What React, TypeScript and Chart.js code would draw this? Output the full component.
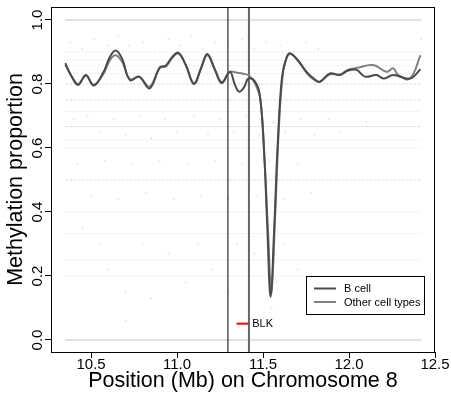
import React, { useEffect, useRef } from "react";
import { Chart, registerables } from "chart.js";
Chart.register(...registerables);

const FONT = "'Liberation Sans', Arial, Helvetica, sans-serif";

// Smoothed methylation curves (position in Mb, proportion)
const bCellX = [10.35, 10.39, 10.425, 10.47, 10.515, 10.57, 10.61, 10.643, 10.68, 10.726, 10.78, 10.84, 10.9, 10.935, 10.97, 11.007, 11.05, 11.098, 11.14, 11.176, 11.22, 11.26, 11.307, 11.335, 11.36, 11.39, 11.414, 11.45, 11.48, 11.505, 11.525, 11.544, 11.565, 11.586, 11.61, 11.635, 11.656, 11.7, 11.753, 11.8, 11.831, 11.889, 11.947, 11.995, 12.044, 12.093, 12.16, 12.2, 12.257, 12.354, 12.416];
const bCellY = [0.865, 0.82, 0.797, 0.828, 0.795, 0.835, 0.885, 0.905, 0.88, 0.812, 0.823, 0.786, 0.852, 0.858, 0.883, 0.898, 0.86, 0.8, 0.85, 0.894, 0.845, 0.803, 0.838, 0.8, 0.776, 0.79, 0.817, 0.81, 0.77, 0.6, 0.35, 0.135, 0.35, 0.62, 0.82, 0.88, 0.896, 0.875, 0.838, 0.815, 0.807, 0.833, 0.828, 0.842, 0.844, 0.823, 0.828, 0.817, 0.828, 0.817, 0.846];

const otherX = [10.35, 10.39, 10.425, 10.47, 10.515, 10.57, 10.61, 10.643, 10.68, 10.726, 10.78, 10.84, 10.9, 10.935, 10.97, 11.007, 11.05, 11.098, 11.14, 11.176, 11.22, 11.26, 11.307, 11.35, 11.385, 11.42, 11.455, 11.485, 11.51, 11.53, 11.548, 11.57, 11.592, 11.615, 11.64, 11.665, 11.71, 11.76, 11.8, 11.831, 11.889, 11.947, 11.995, 12.044, 12.14, 12.219, 12.257, 12.286, 12.354, 12.416];
const otherY = [0.86, 0.822, 0.8, 0.826, 0.798, 0.83, 0.875, 0.89, 0.87, 0.815, 0.822, 0.792, 0.85, 0.855, 0.88, 0.895, 0.86, 0.803, 0.85, 0.89, 0.845, 0.806, 0.838, 0.835, 0.832, 0.826, 0.8, 0.75, 0.55, 0.33, 0.15, 0.38, 0.66, 0.83, 0.885, 0.893, 0.87, 0.83, 0.812, 0.807, 0.83, 0.83, 0.845, 0.85, 0.859, 0.838, 0.849, 0.828, 0.817, 0.89];

// Dense rows of individual CpG measurements (discrete proportion levels)
const bandLevels = [1.0, 0.9, 0.875, 0.857, 0.833, 0.8, 0.75, 0.714, 0.667, 0.625, 0.6, 0.5, 0.4, 0.333, 0.25, 0.2, 0.0];
const bandStrength = [2, 0, 0, 0, 0, 1, 1, 0, 1, 0, 0, 1, 0, 0, 0, 0, 2];
const bandStart = 10.35;
const bandEnd = 12.42;

// Scattered individual measurements
const dotX = [10.38, 10.45, 10.52, 10.6, 10.66, 10.72, 10.8, 10.87, 10.95, 11.02, 11.08, 11.15, 11.22, 11.3, 11.38, 11.45, 11.52, 11.6, 11.68, 11.75, 11.82, 12.42, 12.42,
  10.4, 10.48, 10.55, 10.63, 10.7, 10.78, 10.85, 10.93, 11.0, 11.1, 11.18, 11.25, 11.33, 11.4, 11.48, 11.56, 11.63, 11.72, 11.8, 11.88, 11.95, 12.1,
  10.42, 10.5, 10.58, 10.66, 10.74, 10.82, 10.9, 10.98, 11.06, 11.14, 11.22, 11.3, 11.38, 11.46, 11.54, 11.62, 11.7, 11.78,
  10.45, 10.55, 10.6, 10.7, 10.8, 10.85, 10.95, 11.05, 11.12, 11.2, 11.3, 11.35, 11.45, 11.55, 11.62, 11.7, 11.75, 10.7, 11.58];
const dotY = [0.93, 0.91, 0.94, 0.92, 0.95, 0.92, 0.93, 0.9, 0.94, 0.92, 0.95, 0.91, 0.93, 0.92, 0.94, 0.91, 0.93, 0.92, 0.9, 0.93, 0.91, 0.94, 0.9,
  0.69, 0.7, 0.65, 0.69, 0.64, 0.7, 0.63, 0.69, 0.65, 0.7, 0.64, 0.69, 0.65, 0.7, 0.64, 0.68, 0.65, 0.69, 0.64, 0.69, 0.65, 0.68,
  0.55, 0.45, 0.56, 0.44, 0.55, 0.46, 0.56, 0.44, 0.55, 0.45, 0.56, 0.44, 0.55, 0.45, 0.56, 0.44, 0.55, 0.46,
  0.35, 0.3, 0.22, 0.15, 0.3, 0.13, 0.27, 0.18, 0.3, 0.22, 0.15, 0.3, 0.27, 0.1, 0.3, 0.22, 0.18, 0.06, 0.18];

// Region markers
const markerLines = [11.296, 11.418];
const blkStart = 11.346;
const blkEnd = 11.42;
const blkLevel = 0.051;
const geneLabel = "BLK";

const xTicks = [10.5, 11.0, 11.5, 12.0, 12.5];
const yTicks = [0, 0.2, 0.4, 0.6, 0.8, 1.0];
const seriesNames = ["B cell", "Other cell types"];
const seriesColors = ["#4a4a4a", "#808080"];

const X_MIN = 10.267;
const X_MAX = 12.5;
const Y_MIN = -0.0375;
const Y_MAX = 1.0406;

export default function App() {
  const ref = useRef<HTMLCanvasElement>(null);
  useEffect(() => {
    if (!ref.current) return;
    const datasets: any[] = [];
    datasets.push({
      label: seriesNames[0],
      data: bCellX.map((x, i) => ({ x, y: bCellY[i] })),
      showLine: true, borderColor: seriesColors[0], borderWidth: 2, pointRadius: 0, tension: 0.4, order: 1,
    });
    datasets.push({
      label: seriesNames[1],
      data: otherX.map((x, i) => ({ x, y: otherY[i] })),
      showLine: true, borderColor: seriesColors[1], borderWidth: 2, pointRadius: 0, tension: 0.4, order: 2,
    });
    markerLines.forEach((m, i) => {
      datasets.push({
        label: "marker" + i,
        data: [{ x: m, y: Y_MIN }, { x: m, y: Y_MAX }],
        showLine: true, borderColor: i === 0 ? "#000000" : "#666666", borderWidth: i === 0 ? 1 : 2, pointRadius: 0, order: 3,
      });
    });
    datasets.push({
      label: "gene",
      data: [{ x: blkStart, y: blkLevel }, { x: blkEnd, y: blkLevel }],
      showLine: true, borderColor: "#ff0000", borderWidth: 2, pointRadius: 0, order: 4,
    });
    bandLevels.forEach((lv, i) => {
      const s = bandStrength[i];
      datasets.push({
        label: "band" + i,
        data: [{ x: bandStart, y: lv }, { x: bandEnd, y: lv }],
        showLine: true,
        borderColor: s === 2 ? "#d8d8d8" : s === 1 ? "#dcdcdc" : "#e8e8e8",
        borderWidth: s === 2 ? 1.5 : 1,
        borderDash: s === 2 ? [] : s === 1 ? [3, 1] : [2, 2],
        pointRadius: 0, order: 10,
      });
    });
    datasets.push({
      label: "dots",
      data: dotX.map((x, i) => ({ x, y: dotY[i] })),
      showLine: false, pointRadius: 0.8, pointBackgroundColor: "#dadada", pointBorderWidth: 0, order: 11,
    });

    const overlay = {
      id: "overlay",
      afterDraw(chart: any) {
        const { ctx, chartArea, scales } = chart;
        const xs = scales.x, ys = scales.y;
        ctx.save();
        ctx.strokeStyle = "#000";
        ctx.lineWidth = 1;
        ctx.strokeRect(chartArea.left + 0.5, chartArea.top + 0.5, chartArea.right - chartArea.left - 1, chartArea.bottom - chartArea.top);
        ctx.fillStyle = "#000";
        ctx.font = "11px " + FONT;
        ctx.textBaseline = "middle";
        ctx.textAlign = "left";
        ctx.fillText(geneLabel, xs.getPixelForValue(blkEnd) + 3, ys.getPixelForValue(blkLevel));
        const lx = 306, ly = 276, lw = 118, lh = 38;
        ctx.fillStyle = "#fff";
        ctx.fillRect(lx, ly, lw, lh);
        ctx.strokeStyle = "#000";
        ctx.strokeRect(lx + 0.5, ly + 0.5, lw, lh);
        seriesNames.forEach((n, i) => {
          const yy = ly + 12.5 + i * 13.5;
          ctx.strokeStyle = seriesColors[i];
          ctx.lineWidth = 2;
          ctx.beginPath();
          ctx.moveTo(lx + 8, yy);
          ctx.lineTo(lx + 30, yy);
          ctx.stroke();
          ctx.fillStyle = "#000";
          ctx.fillText(n, lx + 38, yy + 0.5);
        });
        ctx.restore();
      },
    };

    const chart = new Chart(ref.current, {
      type: "scatter",
      data: { datasets },
      options: {
        animation: false,
        responsive: false,
        devicePixelRatio: 1,
        layout: { padding: { top: 7, right: 16, left: 0, bottom: 0 } },
        plugins: { legend: { display: false }, tooltip: { enabled: false } },
        scales: {
          x: {
            type: "linear", min: X_MIN, max: X_MAX,
            afterBuildTicks: (s: any) => { s.ticks = xTicks.map((v) => ({ value: v })); },
            afterFit: (s: any) => { s.height = 41; },
            border: { display: false },
            grid: { display: true, drawOnChartArea: false, drawTicks: true, tickLength: 6, color: "#000", tickColor: "#000" },
            ticks: { color: "#000", font: { family: FONT, size: 15 }, padding: -2, maxRotation: 0, autoSkip: false, callback: (v: any) => Number(v).toFixed(1) },
            title: { display: true, text: "Position (Mb) on Chromosome 8", color: "#000", font: { family: FONT, size: 21.5, lineHeight: 1 }, padding: { top: 0, bottom: 1 } },
          },
          y: {
            type: "linear", min: Y_MIN, max: Y_MAX,
            afterBuildTicks: (s: any) => { s.ticks = yTicks.map((v) => ({ value: v })); },
            afterFit: (s: any) => { s.width = 51; },
            border: { display: false },
            grid: { display: true, drawOnChartArea: false, drawTicks: true, tickLength: 6, color: "#000", tickColor: "#000" },
            ticks: { color: "#000", font: { family: FONT, size: 15 }, padding: -3, minRotation: 90, maxRotation: 90, crossAlign: "center", autoSkip: false, callback: (v: any) => Number(v).toFixed(1) },
            title: { display: true, text: "Methylation proportion", color: "#000", font: { family: FONT, size: 21.5, lineHeight: 1 }, padding: { top: 5, bottom: 0 } },
          },
        },
      },
      plugins: [overlay],
    } as any);
    return () => chart.destroy();
  }, []);
  return (
    <div style={{ position: "fixed", left: 0, top: 0, width: 451, height: 393, background: "#fff" }}>
      <canvas ref={ref} width={451} height={393} style={{ display: "block", width: 451, height: 393 }} />
    </div>
  );
}
